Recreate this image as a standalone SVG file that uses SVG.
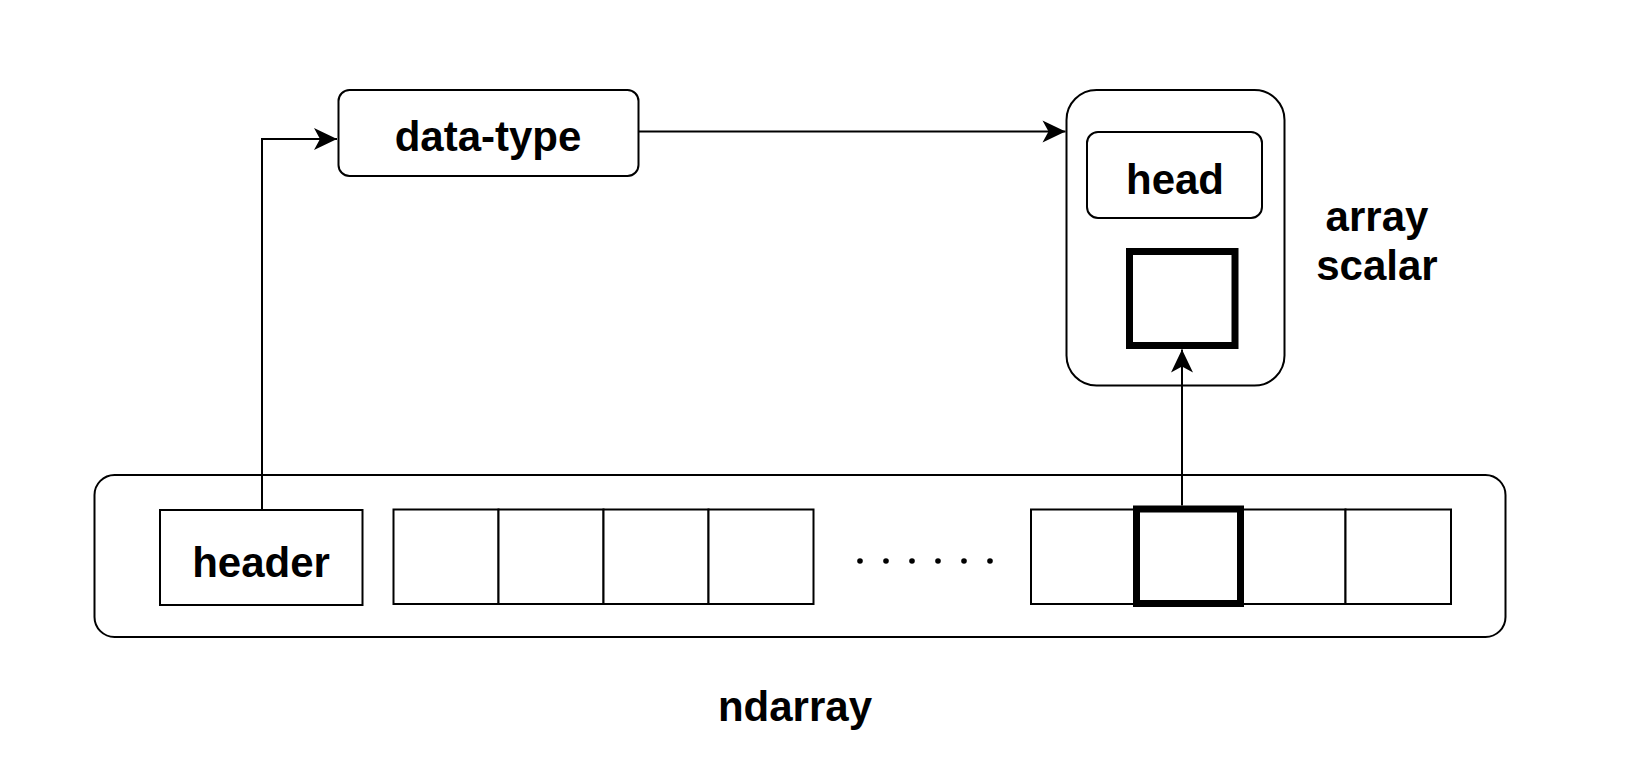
<svg xmlns="http://www.w3.org/2000/svg" width="1638" height="775" viewBox="0 0 1638 775">
<style>
.box{fill:#fff;stroke:#000;stroke-width:2}
.cell{fill:#fff;stroke:#000;stroke-width:2}
.thick{fill:#fff;stroke:#000;stroke-width:7}
.lbl{font-family:"Liberation Sans",Arial,sans-serif;font-weight:bold;font-size:42px;fill:#000;text-anchor:middle}
.conn{fill:none;stroke:#000;stroke-width:2}
</style>
<defs>
<marker id="arr" markerUnits="userSpaceOnUse" markerWidth="26" markerHeight="26" viewBox="-24 -13 26 26" refX="0" refY="0" orient="auto">
<path d="M0,0 L-23,-11 L-17,0 L-23,11 Z" fill="#000"/>
</marker>
</defs>
<rect width="1638" height="775" fill="#fff"/>
<g id="ndarray">
<rect class="box" x="94.5" y="475" width="1411" height="162" rx="20"/>
<text class="lbl" x="795" y="721">ndarray</text>
</g>
<g id="header">
<rect class="cell" x="160" y="510" width="202.5" height="95"/>
<text class="lbl" x="261" y="577">header</text>
</g>
<g id="cells-left">
<rect class="cell" x="393.5" y="509.5" width="105" height="94.5"/>
<rect class="cell" x="498.5" y="509.5" width="105" height="94.5"/>
<rect class="cell" x="603.5" y="509.5" width="105" height="94.5"/>
<rect class="cell" x="708.5" y="509.5" width="105" height="94.5"/>
</g>
<g id="dots" fill="#000">
<circle cx="860" cy="561" r="2.8"/>
<circle cx="886" cy="561" r="2.8"/>
<circle cx="912" cy="561" r="2.8"/>
<circle cx="938" cy="561" r="2.8"/>
<circle cx="964" cy="561" r="2.8"/>
<circle cx="990" cy="561" r="2.8"/>
</g>
<g id="cells-right">
<rect class="cell" x="1031" y="509.5" width="105" height="94.5"/>
<rect class="cell" x="1240" y="509.5" width="105.5" height="94.5"/>
<rect class="cell" x="1345.5" y="509.5" width="105.5" height="94.5"/>
<rect class="thick" x="1136.5" y="509" width="104" height="94.5"/>
</g>
<g id="data-type">
<rect class="box" x="338.5" y="90" width="300" height="86" rx="11"/>
<text class="lbl" x="488" y="151">data-type</text>
</g>
<g id="array-scalar">
<rect class="box" x="1066.5" y="90" width="218" height="295.5" rx="30"/>
<rect class="box" x="1087" y="132" width="175" height="86" rx="11"/>
<text class="lbl" x="1175" y="194">head</text>
<rect class="thick" x="1129.5" y="251.5" width="105.5" height="94"/>
<text class="lbl" x="1377" y="231">array</text>
<text class="lbl" x="1377" y="280">scalar</text>
</g>
<g id="connectors">
<path class="conn" d="M262,510 V139 H337" marker-end="url(#arr)"/>
<path class="conn" d="M639,131.5 H1065.5" marker-end="url(#arr)"/>
<path class="conn" d="M1182,505.5 V349.5" marker-end="url(#arr)"/>
</g>
</svg>
